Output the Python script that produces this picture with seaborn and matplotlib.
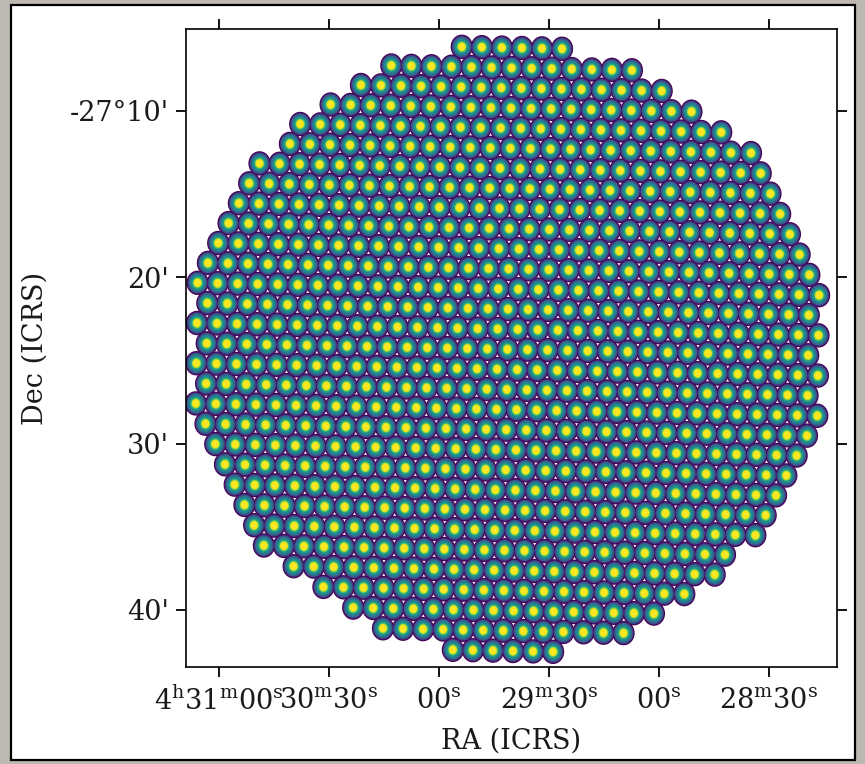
import numpy as np
import pandas as pd
import matplotlib
matplotlib.use("Agg")
import matplotlib.pyplot as plt
from matplotlib.path import Path
from matplotlib.patches import Rectangle
import seaborn as sns

# tiling centre and beam lattice
ra_centre = 67.42216         # deg
dec_centre = -27.40519       # deg
anchor_offset = (20.0, -1089.6)  # arcsec (west, north) of the bottom beam from the centre
beam_sep = 72.83             # arcsec between neighbours along a row
row_tilt = -1.13             # deg, rows drop slightly towards the west
dec_stretch = 1.15           # lattice elongated along Dec
beam_elong = 1.10            # beam shape elongation along Dec
tiling_halfwidth = 1155.0    # arcsec, E-W half size of the tiled area
tiling_halfheight = 1104.0   # arcsec, N-S half size of the tiled area

# radial profile of one beam: ring radius (fraction of beam_sep) and colour level
ring_radius = [0.55, 0.50, 0.465, 0.43, 0.39, 0.345, 0.30, 0.26, 0.225, 0.195, 0.165]
ring_level = [0.0, 0.12, 0.24, 0.33, 0.40, 0.46, 0.53, 0.64, 0.80, 0.94, 1.0]

# axes
ra_lim = (67.7875, 67.0477)
dec_lim = (-27.7239, -27.0845)
ra_ticks = [67.75, 67.625, 67.5, 67.375, 67.25, 67.125]
ra_labels = [r"4$^\mathrm{h}$31$^\mathrm{m}$00$^\mathrm{s}$",
             r"30$^\mathrm{m}$30$^\mathrm{s}$",
             r"00$^\mathrm{s}$",
             r"29$^\mathrm{m}$30$^\mathrm{s}$",
             r"00$^\mathrm{s}$",
             r"28$^\mathrm{m}$30$^\mathrm{s}$"]
dec_ticks = [-27 - 10 / 60, -27 - 20 / 60, -27 - 30 / 60, -27 - 40 / 60]
dec_labels = ["-27°10'", "20'", "30'", "40'"]

# --- hexagonal beam lattice ---
t = np.deg2rad(row_tilt)
a1 = np.array([np.cos(t), np.sin(t)]) * beam_sep
a1u = np.array([a1[0], a1[1] / dec_stretch])
rot = np.deg2rad(-60)
a2u = np.array([a1u[0] * np.cos(rot) - a1u[1] * np.sin(rot),
                a1u[0] * np.sin(rot) + a1u[1] * np.cos(rot)])
a2 = np.array([a2u[0], a2u[1] * dec_stretch])

ii, jj = np.meshgrid(np.arange(-45, 46), np.arange(-45, 46))
west = anchor_offset[0] + ii.ravel() * a1[0] + jj.ravel() * a2[0]
north = anchor_offset[1] + ii.ravel() * a1[1] + jj.ravel() * a2[1]
keep = (west / tiling_halfwidth) ** 2 + (north / tiling_halfheight) ** 2 <= 1
cosd = np.cos(np.deg2rad(dec_centre))
beams = pd.DataFrame({
    "ra": ra_centre - west[keep] / 3600 / cosd,
    "dec": dec_centre + north[keep] / 3600,
})

# --- style ---
sns.set_theme(style="ticks")
plt.rcParams["font.family"] = ["DejaVu Serif"]
plt.rcParams["mathtext.fontset"] = "dejavuserif"

fig = plt.figure(figsize=(8.65, 7.64), dpi=100)
fig.patch.set_facecolor("#bdb9b1")
fig.add_artist(Rectangle((11 / 865, 1 - 760 / 764), 844 / 865, 755 / 764,
                         transform=fig.transFigure, facecolor="white",
                         edgecolor="black", linewidth=1.6, zorder=0))

ax = fig.add_axes([186 / 865, 1 - 667 / 764, 651 / 865, 638 / 764])
ax.set_xlim(*ra_lim)
ax.set_ylim(*dec_lim)

# size of one arcsec along Dec in points
p0 = ax.transData.transform((ra_centre, dec_centre))
p1 = ax.transData.transform((ra_centre, dec_centre + 1 / 3600))
pt_per_arcsec = abs(p1[1] - p0[1]) * 72 / fig.dpi

th = np.linspace(0, 2 * np.pi, 73)
ellipse = Path(np.column_stack([0.5 * np.cos(th), 0.5 * beam_elong * np.sin(th)]))

cmap = sns.color_palette("viridis", as_cmap=True)
for rad, lev in zip(ring_radius, ring_level):
    diam_pt = 2 * rad * beam_sep * beam_elong * pt_per_arcsec
    sns.scatterplot(data=beams, x="ra", y="dec", marker=ellipse, s=diam_pt ** 2,
                    color=cmap(lev), linewidth=0, edgecolor="none",
                    legend=False, ax=ax)

ax.set_xlim(*ra_lim)
ax.set_ylim(*dec_lim)
ax.set_xticks(ra_ticks)
ax.set_xticklabels(ra_labels, fontsize=19.5)
ax.set_yticks(dec_ticks)
ax.set_yticklabels(dec_labels, fontsize=19.5)
ax.tick_params(direction="out", length=7.5, width=1.3, top=True, right=True,
               labeltop=False, labelright=False, pad=5, color="black",
               labelcolor="#1a1a1a")
ax.tick_params(axis="x", pad=7)
for sp in ax.spines.values():
    sp.set_linewidth(1.2)
    sp.set_color("black")

ax.set_xlabel("RA (ICRS)", fontsize=19.5, color="#1a1a1a")
ax.set_ylabel("Dec (ICRS)", fontsize=19.5, color="#1a1a1a")
ax.xaxis.set_label_coords(0.5, -0.116)
ax.xaxis.label.set_va("center")
ax.yaxis.set_label_coords(-0.232, 0.5)
ax.yaxis.label.set_va("center")

fig.savefig("out.png", dpi=100, facecolor=fig.get_facecolor())
